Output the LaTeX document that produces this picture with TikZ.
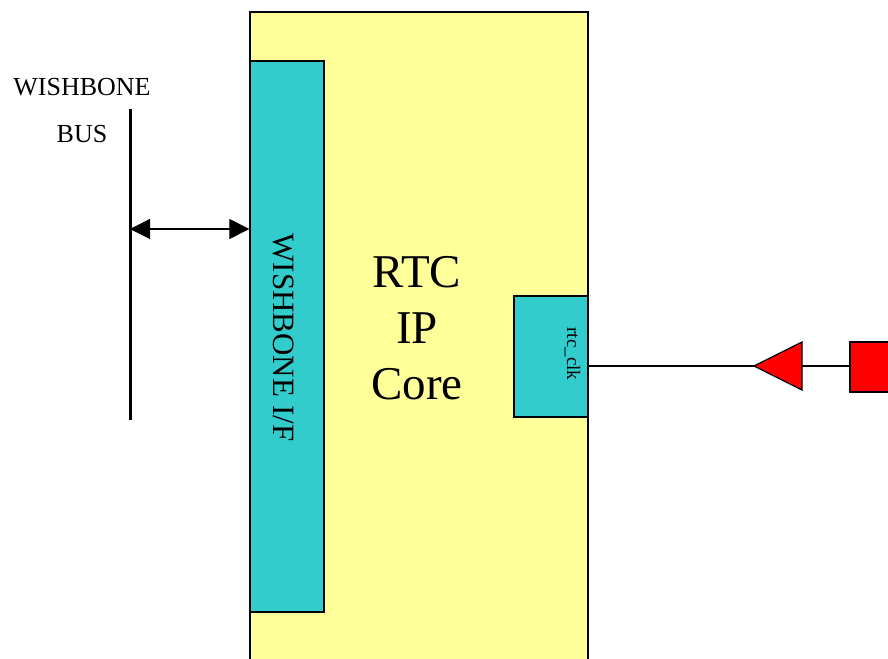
\documentclass[tikz,border=0pt]{standalone}
\usepackage{fontspec}
\setmainfont{Liberation Serif}
\usepackage{xcolor}
\usetikzlibrary{arrows.meta, positioning, calc}

\definecolor{coreyellow}{HTML}{FFFF99}
\definecolor{portcyan}{HTML}{33CCCC}

\begin{document}
\begin{tikzpicture}[
    x=1pt, y=1pt,
    core/.style={rectangle, draw, line width=1.3pt, fill=coreyellow, inner sep=0pt},
    port/.style={rectangle, draw, line width=1.3pt, fill=portcyan, inner sep=0pt},
    src/.style={draw, line width=1.3pt, fill=red},
    lbl/.style={inner sep=0pt, font=\fontsize{26}{26}\selectfont},
    arr/.style={{Triangle[length=20pt, width=20pt]}-{Triangle[length=20pt, width=20pt]}, line width=1.2pt},
    wire/.style={line width=1.2pt},
]
\useasboundingbox (0,0) rectangle (888,658);
\clip (0,0) rectangle (888,658);

% Core and its ports
\node[core, minimum width=338pt, minimum height=668pt] (core) at (419,312) {};
\node[port, minimum width=74pt, minimum height=551pt] (wbif) at (287,321.5) {};
\node[port, minimum width=74pt, minimum height=121pt] (rtcclk) at (551,301.5) {};

% Texts
\node[inner sep=0pt, anchor=base, align=center, font=\fontsize{47}{56}\selectfont] (title) at (417,258) {RTC\\IP\\Core};
\node[inner sep=0pt, anchor=base, rotate=-90, font=\fontsize{31}{31}\selectfont] (wbtext) at (273,320.5) {WISHBONE I/F};
\node[inner sep=0pt, anchor=base, rotate=-90, font=\fontsize{19}{19}\selectfont] (clktext) at (567,304) {rtc\_clk};

% Wishbone bus
\node[lbl, anchor=base] (wbname) at (82,562) {WISHBONE};
\node[lbl, anchor=base] (busname) at (82,515) {BUS};
\coordinate (busTop) at (130,549);
\coordinate (busBot) at (130,238);
\draw[line width=3pt] (busTop) -- (busBot);
\coordinate (busPt) at (130,429);
\draw[arr] (busPt) -- (wbif.west |- busPt);

% Clock input
\coordinate (tip) at (754,292);
\coordinate (baseTop) at (802,316);
\coordinate (baseBot) at (802,268);
\coordinate (baseMid) at (802,292);
\draw[src, line join=miter] (tip) -- (baseTop) -- (baseBot) -- cycle;
\node[src, minimum width=50pt, minimum height=50pt, inner sep=0pt] (clksrc) at (875,291) {};
\draw[wire] (rtcclk.east |- tip) -- (tip);
\draw[wire] (baseMid) -- (clksrc.west |- baseMid);
\end{tikzpicture}
\end{document}
